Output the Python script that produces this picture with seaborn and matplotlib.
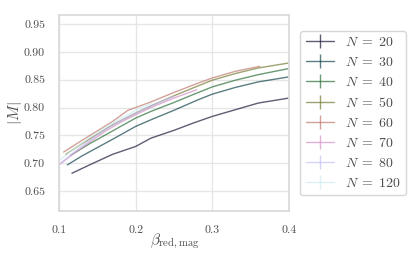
import matplotlib
matplotlib.use('Agg')
import matplotlib.pyplot as plt
import seaborn as sns

# --- dados ---
n_values = [20, 30, 40, 50, 60, 70, 80, 120]

beta = {
    20: [0.117, 0.14, 0.17, 0.2, 0.22, 0.25, 0.275, 0.3, 0.33, 0.36, 0.4],
    30: [0.111, 0.13, 0.15, 0.17, 0.2, 0.22, 0.25, 0.28, 0.3, 0.33, 0.36, 0.4],
    40: [0.115, 0.14, 0.17, 0.2, 0.22, 0.25, 0.28, 0.3, 0.33, 0.36, 0.4],
    50: [0.109, 0.13, 0.15, 0.17, 0.2, 0.22, 0.25, 0.28, 0.3, 0.33, 0.36, 0.4],
    60: [0.106, 0.13, 0.15, 0.17, 0.19, 0.22, 0.25, 0.28, 0.3, 0.33, 0.362],
    70: [0.1, 0.12, 0.14, 0.16, 0.18, 0.2, 0.22, 0.25, 0.28],
    80: [0.103, 0.12, 0.14, 0.16, 0.18, 0.2, 0.22, 0.25],
    120: [0.102, 0.12, 0.14, 0.16, 0.18, 0.2, 0.22],
}

mag = {
    20: [0.682, 0.697, 0.716, 0.730, 0.745, 0.759, 0.772, 0.784, 0.796, 0.808, 0.817],
    30: [0.697, 0.713, 0.728, 0.743, 0.766, 0.778, 0.795, 0.813, 0.824, 0.836, 0.846, 0.855],
    40: [0.714, 0.735, 0.758, 0.781, 0.793, 0.809, 0.826, 0.837, 0.849, 0.859, 0.870],
    50: [0.716, 0.735, 0.752, 0.769, 0.790, 0.803, 0.821, 0.838, 0.849, 0.861, 0.871, 0.880],
    60: [0.720, 0.741, 0.758, 0.775, 0.795, 0.810, 0.827, 0.843, 0.853, 0.865, 0.874],
    70: [0.697, 0.718, 0.738, 0.757, 0.773, 0.787, 0.800, 0.817, 0.832],
    80: [0.701, 0.720, 0.741, 0.760, 0.776, 0.790, 0.803, 0.820],
    120: [0.707, 0.726, 0.746, 0.764, 0.780, 0.795, 0.807],
}

# barras de erro: pequenas demais para aparecer, só a legenda mostra a cruz
mag_err = [0.0, 0.0, 0.0, 0.0, 0.0, 0.0, 0.0, 0.0]

sns.set_theme(style="whitegrid", rc={'grid.color': '0.9', 'axes.edgecolor': '0.85'})
plt.rcParams['font.family'] = 'serif'
plt.rcParams['font.serif'] = ['cmr10']
plt.rcParams['mathtext.fontset'] = 'cm'
plt.rcParams['axes.formatter.use_mathtext'] = True

cores = sns.color_palette("cubehelix", len(n_values))

fig = plt.figure(figsize=(4.15, 2.6), dpi=100)
ax = fig.add_axes([0.142, 0.188, 0.554, 0.754])

for n, cor, err in zip(n_values, cores, mag_err):
    ax.errorbar(beta[n], mag[n], yerr=err, color=cor, lw=1, alpha=0.7,
                label=rf'$N \;=\; {n}$')

ax.set_xlim(0.1, 0.4)
ax.set_ylim(0.614, 0.966)
ax.set_xticks([0.1, 0.2, 0.3, 0.4])
ax.set_yticks([0.65, 0.70, 0.75, 0.80, 0.85, 0.90, 0.95])
ax.set_xticklabels(['0.1', '0.2', '0.3', '0.4'])
ax.set_yticklabels(['0.65', '0.70', '0.75', '0.80', '0.85', '0.90', '0.95'])
ax.tick_params(labelsize=8.5, pad=4, colors='0.3')
ax.set_xlabel(r'$\beta_{\mathrm{red,mag}}$', fontsize=11, color='0.3')
ax.set_ylabel(r'$|M|$', fontsize=11, color='0.3')
ax.yaxis.set_label_coords(-0.152, 0.5)
ax.xaxis.set_label_coords(0.504, -0.108)

leg = ax.legend(loc='center left', bbox_to_anchor=(1.02, 0.5), fontsize=10)
for t in leg.get_texts():
    t.set_color('0.3')

fig.savefig('out.png', dpi=100)
plt.close('all')
